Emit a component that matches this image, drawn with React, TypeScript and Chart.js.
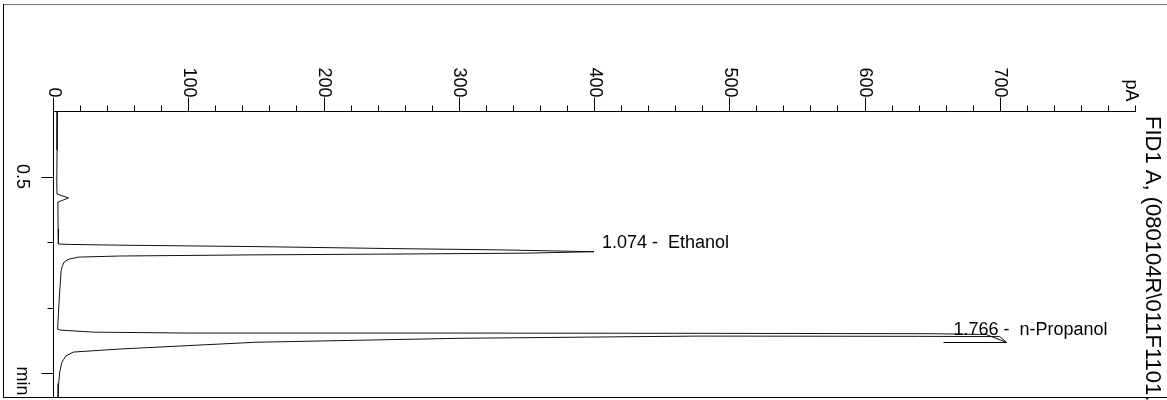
import React, { useEffect, useRef } from "react";
import { Chart, registerables } from "chart.js";

Chart.register(...registerables);

// Trace (retention time in min, signal in pA)
const traceTime = [
  0, 0.3, 0.55, 0.634, 0.664, 0.695, 0.9, 1.015, 1.018, 1.024, 1.035, 1.05, 1.06, 1.074,
  1.085, 1.092, 1.098, 1.107, 1.115, 1.13, 1.15, 1.18, 1.22, 1.45, 1.665,
  1.672, 1.688, 1.695, 1.695, 1.697, 1.7, 1.706, 1.766,
  1.722, 1.72, 1.718, 1.735, 1.765, 1.817, 1.84, 1.87, 1.92, 1.99, 2.08, 2.183,
];
const tracePA = [
  3.2, 3.0, 2.8, 3.0, 11.5, 3.6, 3.8, 4.0, 10, 49, 150, 250, 330, 400,
  350, 250, 150, 49, 19, 12, 8.5, 7, 6, 4.5, 3.4,
  5, 30, 100, 300, 480, 650, 690, 705,
  700, 640, 477, 300, 150, 49, 15, 9.5, 6.5, 5, 4.2, 3.8,
];

const peakTimes = [1.074, 1.766];
const peakHeights = [400, 705];
const peakNames = ["Ethanol", "n-Propanol"];

const xMajorTicks = [0, 100, 200, 300, 400, 500, 600, 700];
const xMinorTicks = [
  20, 40, 60, 80, 120, 140, 160, 180, 220, 240, 260, 280, 320, 340, 360, 380,
  420, 440, 460, 480, 520, 540, 560, 580, 620, 640, 660, 680, 720, 740, 760, 780, 800,
];
const xUnitLabel = "pA";
const xMax = 800;

const yLongTicks = [0.5, 2.0];
const yShortTicks = [1.0, 1.5];
const yTickLabels = ["0.5"];
const yTickLabelValues = [0.5];
const yUnitLabel = "min";
const yMax = 2.183;

const signalTitle = "FID1 A, (080104R\\011F1101.D)";

const FONT = '"Liberation Sans", Arial, sans-serif';

const overlayPlugin = {
  id: "overlay",
  afterDraw(chart: any) {
    const ctx = chart.ctx as CanvasRenderingContext2D;
    const xs = chart.scales.x;
    const ys = chart.scales.y;
    const area = chart.chartArea;
    ctx.save();
    ctx.strokeStyle = "#000";
    ctx.fillStyle = "#000";
    ctx.lineWidth = 1;

    // outer frame
    ctx.strokeStyle = "#777";
    ctx.beginPath();
    ctx.moveTo(3, 4.5);
    ctx.lineTo(1167, 4.5);
    ctx.stroke();
    ctx.strokeStyle = "#000";
    ctx.beginPath();
    ctx.moveTo(3.5, 4);
    ctx.lineTo(3.5, 397);
    ctx.moveTo(3, 397.5);
    ctx.lineTo(1167, 397.5);
    ctx.stroke();

    // x ticks
    const top = Math.round(area.top) + 0.5;
    ctx.beginPath();
    for (const v of xMinorTicks) {
      const px = Math.round(xs.getPixelForValue(v)) + 0.5;
      ctx.moveTo(px, top);
      ctx.lineTo(px, top - 6);
    }
    for (const v of xMajorTicks) {
      const px = Math.round(xs.getPixelForValue(v)) + 0.5;
      ctx.moveTo(px, top);
      ctx.lineTo(px, top - 14);
    }
    ctx.stroke();

    // x labels (rotated clockwise)
    ctx.font = `18px ${FONT}`;
    const drawRot = (text: string, x: number, y: number, align: CanvasTextAlign) => {
      ctx.save();
      ctx.translate(x, y);
      ctx.rotate(Math.PI / 2);
      ctx.textAlign = align;
      ctx.textBaseline = "middle";
      ctx.fillText(text, 0, 0);
      ctx.restore();
    };
    for (const v of xMajorTicks) {
      const px = xs.getPixelForValue(v);
      drawRot(String(v), px + 0.5, top - 14, "right");
    }
    drawRot(xUnitLabel, xs.getPixelForValue(xMax) - 4, top - 10, "right");

    // y ticks
    const left = Math.round(area.left) + 0.5;
    ctx.beginPath();
    for (const v of yLongTicks) {
      const py = Math.round(ys.getPixelForValue(v)) + 0.5;
      ctx.moveTo(left, py);
      ctx.lineTo(left - 12, py);
    }
    for (const v of yShortTicks) {
      const py = Math.round(ys.getPixelForValue(v)) + 0.5;
      ctx.moveTo(left, py);
      ctx.lineTo(left - 6, py);
    }
    ctx.stroke();
    yTickLabelValues.forEach((v, i) => {
      drawRot(yTickLabels[i], 22, ys.getPixelForValue(v), "center");
    });
    drawRot(yUnitLabel, 22, 381, "center");

    // peak labels
    ctx.font = `18px ${FONT}`;
    ctx.textBaseline = "alphabetic";
    ctx.textAlign = "left";
    peakTimes.forEach((t, i) => {
      const px = xs.getPixelForValue(peakHeights[i]);
      const py = ys.getPixelForValue(t);
      const text = `${t.toFixed(3)} -  ${peakNames[i]}`;
      if (i === 0) {
        ctx.fillText(text, px + 8, py - 4);
      } else {
        const tx = px - 53;
        ctx.fillText(text, tx, py - 7);
        ctx.beginPath();
        ctx.moveTo(tx - 10, Math.round(py) + 0.5);
        ctx.lineTo(px, Math.round(py) + 0.5);
        ctx.stroke();
      }
    });

    // signal title on the right
    ctx.font = `22px ${FONT}`;
    ctx.save();
    ctx.translate(1152, 116);
    ctx.rotate(Math.PI / 2);
    ctx.textAlign = "left";
    ctx.textBaseline = "middle";
    ctx.fillText(signalTitle, 0, 0);
    ctx.restore();

    ctx.restore();
  },
};

export default function App() {
  const canvasRef = useRef<HTMLCanvasElement | null>(null);

  useEffect(() => {
    const canvas = canvasRef.current;
    if (!canvas) return;
    const points = traceTime.map((t, i) => ({ x: tracePA[i], y: t }));
    const chart = new Chart(canvas, {
      type: "scatter",
      data: {
        datasets: [
          {
            data: points,
            showLine: true,
            borderColor: "#111",
            borderWidth: 1,
            pointRadius: 0,
            tension: 0,
            fill: false,
          },
        ],
      },
      options: {
        responsive: false,
        animation: false,
        devicePixelRatio: 1,
        layout: { padding: { left: 53, top: 111, right: 32, bottom: 3 } },
        plugins: {
          legend: { display: false },
          tooltip: { enabled: false },
        },
        scales: {
          x: {
            type: "linear",
            position: "top",
            min: 0,
            max: xMax,
            grid: { display: false },
            ticks: { display: false },
            border: { display: true, color: "#000", width: 1 },
            afterFit: (s: any) => {
              s.height = 0;
            },
          },
          y: {
            type: "linear",
            position: "left",
            reverse: true,
            min: 0,
            max: yMax,
            grid: { display: false },
            ticks: { display: false },
            border: { display: true, color: "#000", width: 1 },
            afterFit: (s: any) => {
              s.width = 0;
            },
          },
        },
      },
      plugins: [overlayPlugin],
    });
    return () => chart.destroy();
  }, []);

  return (
    <div style={{ position: "fixed", left: 0, top: 0, width: 1167, height: 400, background: "#fff" }}>
      <canvas ref={canvasRef} width={1167} height={400} style={{ display: "block" }} />
    </div>
  );
}
